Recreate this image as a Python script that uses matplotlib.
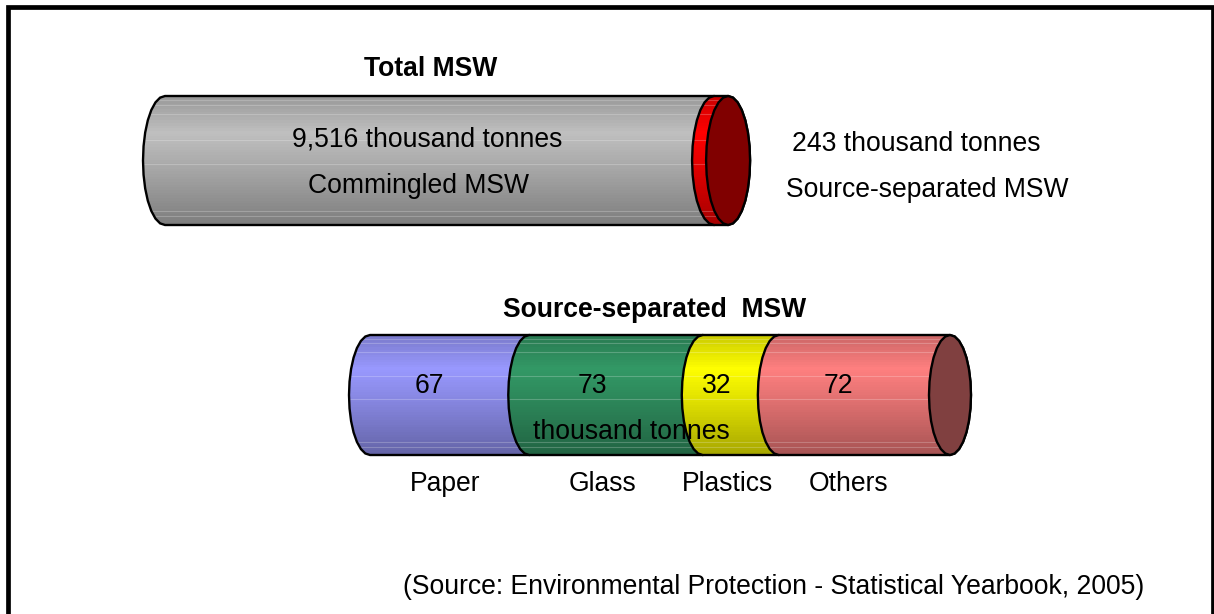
import numpy as np
import matplotlib.pyplot as plt
from matplotlib.colors import to_rgb
from matplotlib.lines import Line2D
from matplotlib.patches import Polygon

plt.rcParams['font.family'] = ['Liberation Sans', 'DejaVu Sans']

# Data (thousand tonnes)
total_names = ['Commingled MSW', 'Source-separated MSW']
total_values = [9516, 243]
separated_names = ['Paper', 'Glass', 'Plastics', 'Others']
separated_values = [67, 73, 32, 72]

W, H = 1214, 614
fig = plt.figure(figsize=(W / 100, H / 100), dpi=100, facecolor='white')

# sombreado vertical del cilindro y lineas claras
shade_pos = [0.0, 0.28, 0.55, 1.0]
shade_val = [0.80, 1.0, 0.88, 0.66]
light_rows = [0.03, 0.07, 0.14, 0.34, 0.53, 0.89, 0.93]


def cylinder_axes():
    # eje x en miles de toneladas, eje y en pixeles de la figura
    ax = fig.add_axes([0, 0, 1, 1])
    ax.axis('off')
    ax.patch.set_alpha(0)
    return ax


def ellipse_side(xc, rx, top, bottom, t0, t1, n=15):
    t = np.linspace(t0, t1, n)
    yc = (top + bottom) / 2
    ry = (bottom - top) / 2
    return np.column_stack([xc + rx * np.cos(t), yc + ry * np.sin(t)])


def segment(ax, x0, x1, rx, top, bottom, color, z):
    left = ellipse_side(x0, rx, top, bottom, -np.pi / 2, -3 * np.pi / 2)
    right = ellipse_side(x1, rx, top, bottom, np.pi / 2, -np.pi / 2)
    patch = Polygon(np.vstack([left, right]), closed=True, fc='none', ec='black', lw=1.7, zorder=z + 0.2)
    ax.add_patch(patch)

    rows = np.linspace(0, 1, 48)
    factor = np.interp(rows, shade_pos, shade_val)
    img = (factor[:, None] * np.array(to_rgb(color)))[:, None, :]
    im = ax.imshow(img, extent=[x0 - rx, x1 + rx, bottom, top], aspect='auto', zorder=z,
                   interpolation='nearest')
    im.set_clip_path(patch)
    for r in light_rows:
        y = top + r * (bottom - top)
        ln = ax.plot([x0 - rx, x1 + rx], [y, y], color='white', lw=0.8, alpha=0.22, zorder=z + 0.1)[0]
        ln.set_clip_path(patch)


def cap(ax, x, rx, top, bottom, color, z):
    pts = ellipse_side(x, rx, top, bottom, 0, 2 * np.pi, n=29)
    ax.add_patch(Polygon(pts, closed=True, fc=color, ec='black', lw=1.7, zorder=z))


def draw_cylinder(values, colors, cap_color, x0_px, scale, rx_px, top, bottom):
    ax = cylinder_axes()
    edges = np.concatenate([[0], np.cumsum(values)])
    for i in range(len(values)):
        segment(ax, edges[i], edges[i + 1], rx_px / scale, top, bottom, colors[i], 2 + i)
    cap(ax, edges[-1], rx_px / scale, top, bottom, cap_color, 2 + len(values))
    ax.set_xlim(-x0_px / scale, (W - x0_px) / scale)
    ax.set_ylim(H, 0)
    return ax


draw_cylinder(total_values, ['#c0c0c0', '#ff0000'], '#800000', 165, 0.0577, 22, 96, 225)
draw_cylinder(separated_values, ['#9999ff', '#339966', '#ffff00', '#ff8080'], '#804040',
              370, 2.377, 21, 335, 455)


def label(x, y, s, **kw):
    fig.text(x / W, 1 - (y + 2) / H, s, ha='center', va='center', fontsize=19.1, color='black',
             zorder=10, **kw)


label(431, 67, 'Total MSW', fontweight='bold')
label(427, 138, f'{total_values[0]:,} thousand tonnes')
label(418, 184, total_names[0])
label(916, 142, f'{total_values[1]} thousand tonnes')
label(927, 188, total_names[1])

label(655, 308, 'Source-separated  MSW', fontweight='bold')
for x, v in zip([429, 592, 717, 838], separated_values):
    label(x, 384, str(v))
label(631, 430, 'thousand tonnes')
for x, name in zip([445, 603, 727, 849], separated_names):
    label(x, 482, name)

label(774, 585, '(Source: Environmental Protection - Statistical Yearbook, 2005)')

# marco negro (el borde inferior queda fuera de la imagen)
fig.add_artist(Line2D([7.5 / W, 7.5 / W, 1212.5 / W, 1212.5 / W],
                      [-0.01, 1 - 7 / H, 1 - 7 / H, -0.01],
                      color='black', lw=3.4, solid_joinstyle='miter'))

fig.savefig('out.png', dpi=100)
